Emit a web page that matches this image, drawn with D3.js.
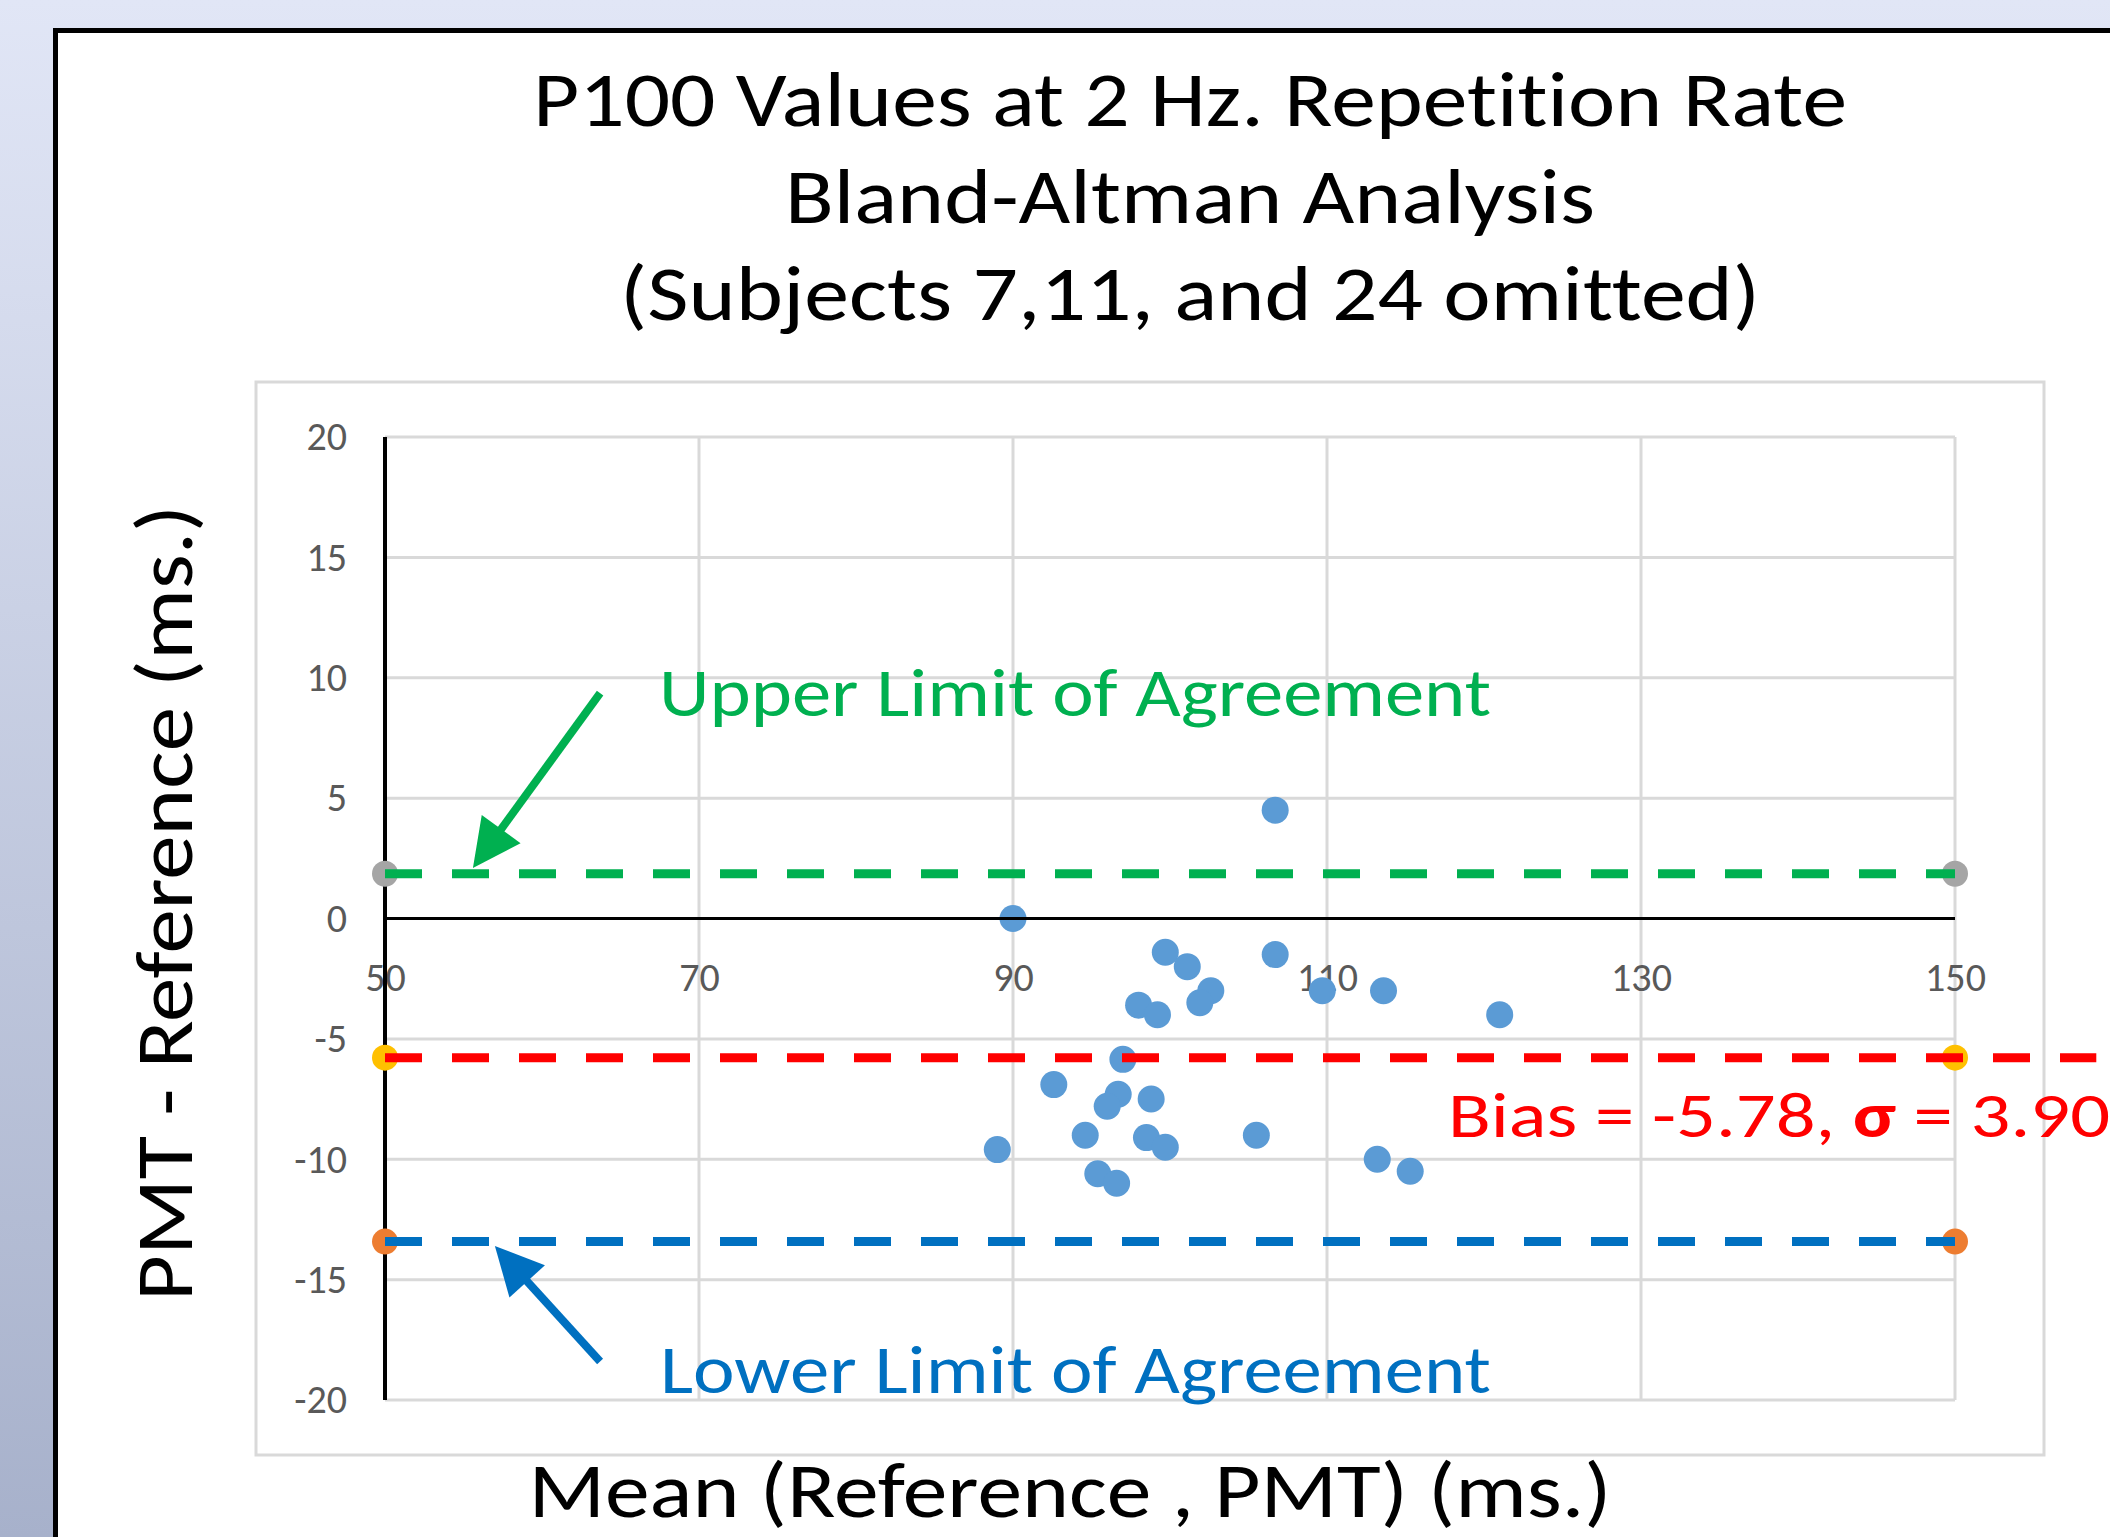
<!DOCTYPE html>
<html>
<head>
<meta charset="utf-8">
<script src="https://cdn.jsdelivr.net/npm/d3@7"></script>
<style>
  html, body { margin: 0; padding: 0; background: #dfe4f5; overflow: hidden; }
  svg { display: block; }
  text { font-family: Carlito, Lato, "Open Sans", sans-serif; font-variant-ligatures: none; }
</style>
</head>
<body>
<div id="chart"></div>
<script>
'use strict';

// mean of (reference, PMT) per subject, ms.
var meanValues = [106.7, 90.0, 99.7, 101.1, 106.7, 102.6, 101.9, 98.0, 99.2, 109.7, 113.6, 121.0, 97.0,
    92.6, 96.7, 96.0, 98.8, 94.6, 98.5, 99.7, 105.5, 89.0, 95.4, 96.6, 113.2, 115.3];
// PMT - reference per subject, ms.
var diffValues = [4.5, 0.0, -1.4, -2.0, -1.5, -3.0, -3.5, -3.6, -4.0, -3.0, -3.0, -4.0, -5.85,
    -6.9, -7.3, -7.8, -7.5, -9.0, -9.1, -9.5, -9.0, -9.6, -10.6, -11.0, -10.0, -10.5];

var limitNames = ['upper', 'bias', 'lower'];
var limitValues = [1.86, -5.78, -13.42];
var limitColors = ['#00b050', '#ff0000', '#0070c0'];
var limitEndColors = ['#a5a5a5', '#ffc000', '#ed7d31'];
var limitEnds = [150, 159, 150];

var xTicks = [50, 70, 90, 110, 130, 150];
var yTicks = [20, 15, 10, 5, 0, -5, -10, -15, -20];

var titleLines = ['P100 Values at 2 Hz. Repetition Rate', 'Bland-Altman Analysis', '(Subjects 7,11, and 24 omitted)'];
var xTitle = 'Mean (Reference , PMT) (ms.)';
var yTitle = 'PMT - Reference (ms.)';

var width = 2110, height = 1537;

var x = d3.scaleLinear().domain([50, 150]).range([385, 1955]);
var y = d3.scaleLinear().domain([-20, 20]).range([1400, 437]);

var svg = d3.select('#chart').append('svg')
    .attr('width', width)
    .attr('height', height);

var defs = svg.append('defs');
var grad = defs.append('linearGradient')
    .attr('id', 'bg')
    .attr('x1', 0).attr('y1', 0).attr('x2', 0).attr('y2', 1);
grad.append('stop').attr('offset', '0%').attr('stop-color', '#e1e6f6');
grad.append('stop').attr('offset', '100%').attr('stop-color', '#a7b1cb');

svg.append('rect')
    .attr('width', width).attr('height', height)
    .attr('fill', 'url(#bg)');

// slide panel
svg.append('rect')
    .attr('x', 55.5).attr('y', 30.5)
    .attr('width', 2200).attr('height', 1700)
    .attr('fill', '#fff')
    .attr('stroke', '#000')
    .attr('stroke-width', 5);

// title
svg.append('g').selectAll('text')
    .data(titleLines)
    .enter().append('text')
    .attr('x', 1190)
    .attr('y', function (d, i) { return 126 + i * 97; })
    .attr('text-anchor', 'middle')
    .attr('font-size', 79)
    .attr('textLength', function (d, i) { return [1314, 810, 1140][i]; })
    .attr('lengthAdjust', 'spacingAndGlyphs')
    .text(function (d) { return d; });

// chart area
svg.append('rect')
    .attr('x', 256).attr('y', 382)
    .attr('width', 1788).attr('height', 1073)
    .attr('fill', '#fff')
    .attr('stroke', '#d9d9d9')
    .attr('stroke-width', 3);

var plot = svg.append('g');

// grid
plot.append('g').selectAll('line')
    .data(yTicks)
    .enter().append('line')
    .attr('x1', x(50)).attr('x2', x(150))
    .attr('y1', y).attr('y2', y)
    .attr('stroke', '#d9d9d9')
    .attr('stroke-width', 3);

plot.append('g').selectAll('line')
    .data(xTicks)
    .enter().append('line')
    .attr('x1', x).attr('x2', x)
    .attr('y1', y(20)).attr('y2', y(-20))
    .attr('stroke', '#d9d9d9')
    .attr('stroke-width', 3);

// tick labels
var yAxis = plot.append('g')
    .attr('transform', 'translate(' + x(50) + ',0)')
    .call(d3.axisLeft(y).tickValues(yTicks).tickSize(0).tickPadding(38)
        .tickFormat(function (d) { return String(d); }));

var xAxis = plot.append('g')
    .attr('transform', 'translate(0,' + y(0) + ')')
    .call(d3.axisBottom(x).tickValues(xTicks).tickSize(0).tickPadding(44)
        .tickFormat(function (d) { return String(d); }));

[yAxis, xAxis].forEach(function (ax) {
    ax.select('.domain').remove();
    ax.selectAll('text')
        .attr('font-family', 'Carlito, Lato, sans-serif')
        .attr('font-size', 40)
        .attr('fill', '#595959');
});

// data points
plot.append('g').selectAll('circle')
    .data(meanValues)
    .enter().append('circle')
    .attr('cx', function (d) { return x(d); })
    .attr('cy', function (d, i) { return y(diffValues[i]); })
    .attr('r', 13.5)
    .attr('fill', '#5b9bd5');

// axis lines
plot.append('line')
    .attr('x1', x(50)).attr('x2', x(50))
    .attr('y1', y(20)).attr('y2', y(-20))
    .attr('stroke', '#000').attr('stroke-width', 4);
plot.append('line')
    .attr('x1', x(50)).attr('x2', x(150))
    .attr('y1', y(0)).attr('y2', y(0))
    .attr('stroke', '#000').attr('stroke-width', 3);

// limit end markers
limitValues.forEach(function (v, i) {
    plot.append('g').selectAll('circle')
        .data([50, 150])
        .enter().append('circle')
        .attr('cx', x)
        .attr('cy', y(v))
        .attr('r', 13)
        .attr('fill', limitEndColors[i]);
});

// limit lines
plot.append('g').selectAll('line')
    .data(limitValues)
    .enter().append('line')
    .attr('class', function (d, i) { return 'limit-' + limitNames[i]; })
    .attr('x1', x(50))
    .attr('x2', function (d, i) { return x(limitEnds[i]); })
    .attr('y1', y).attr('y2', y)
    .attr('stroke', function (d, i) { return limitColors[i]; })
    .attr('stroke-width', 9)
    .attr('stroke-dasharray', '37 30');

// annotations
function arrow(g, x1, y1, x2, y2, color) {
    var dx = x2 - x1, dy = y2 - y1, len = Math.sqrt(dx * dx + dy * dy);
    var ux = dx / len, uy = dy / len;
    var headLen = 48, headHalf = 24;
    var bx = x2 - ux * headLen, by = y2 - uy * headLen;
    g.append('line')
        .attr('x1', x1).attr('y1', y1)
        .attr('x2', bx + ux * 4).attr('y2', by + uy * 4)
        .attr('stroke', color).attr('stroke-width', 8);
    g.append('path')
        .attr('d', 'M' + x2 + ',' + y2 +
            'L' + (bx - uy * headHalf) + ',' + (by + ux * headHalf) +
            'L' + (bx + uy * headHalf) + ',' + (by - ux * headHalf) + 'Z')
        .attr('fill', color);
}

var notes = svg.append('g');
arrow(notes, x(63.7), y(9.36), x(55.6), y(2.1), limitColors[0]);
arrow(notes, x(63.7), y(-18.4), x(57.0), y(-13.6), limitColors[2]);

notes.append('text')
    .attr('x', 659).attr('y', 716)
    .attr('font-size', 67)
    .attr('fill', limitColors[0])
    .attr('textLength', 832)
    .attr('lengthAdjust', 'spacingAndGlyphs')
    .text('Upper Limit of Agreement');

notes.append('text')
    .attr('x', 660).attr('y', 1393)
    .attr('font-size', 67)
    .attr('fill', limitColors[2])
    .attr('textLength', 831)
    .attr('lengthAdjust', 'spacingAndGlyphs')
    .text('Lower Limit of Agreement');

var biasText = notes.append('text')
    .attr('x', 1448).attr('y', 1137)
    .attr('font-size', 64)
    .attr('fill', limitColors[1])
    .attr('textLength', 662)
    .attr('lengthAdjust', 'spacingAndGlyphs');
biasText.append('tspan').text('Bias = -5.78, ');
biasText.append('tspan').attr('font-weight', 'bold').text('σ');
biasText.append('tspan').text(' = 3.90');

// axis titles
svg.append('text')
    .attr('x', 1070).attr('y', 1517)
    .attr('text-anchor', 'middle')
    .attr('font-size', 79)
    .attr('textLength', 1083)
    .attr('lengthAdjust', 'spacingAndGlyphs')
    .text(xTitle);

svg.append('text')
    .attr('transform', 'translate(192,903) rotate(-90)')
    .attr('text-anchor', 'middle')
    .attr('font-size', 80)
    .attr('textLength', 796)
    .attr('lengthAdjust', 'spacingAndGlyphs')
    .text(yTitle);
</script>
</body>
</html>
